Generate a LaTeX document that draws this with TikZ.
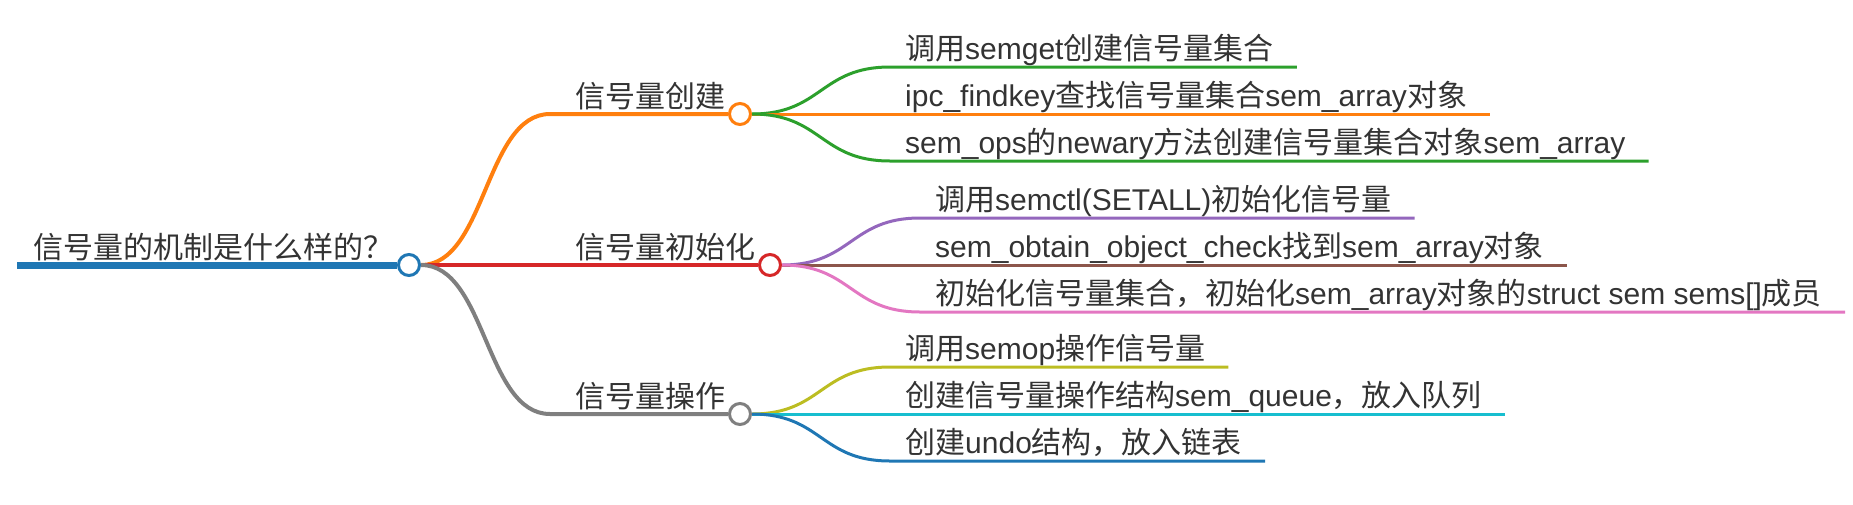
\documentclass[tikz,border=0pt]{standalone}
\usepackage{fontspec}
\setmainfont{Liberation Sans}
\newfontfamily\cjk{Noto Sans CJK SC}
\usetikzlibrary{calc}
\pgfdeclarelayer{bg}
\pgfsetlayers{bg,main}
\definecolor{cBlue}{HTML}{1F77B4}
\definecolor{cOrange}{HTML}{FF7F0E}
\definecolor{cGreen}{HTML}{2CA02C}
\definecolor{cRed}{HTML}{D62728}
\definecolor{cPurple}{HTML}{9467BD}
\definecolor{cBrown}{HTML}{8C564B}
\definecolor{cPink}{HTML}{E377C2}
\definecolor{cGrey}{HTML}{7F7F7F}
\definecolor{cOlive}{HTML}{BCBD22}
\definecolor{cCyan}{HTML}{17BECF}
\definecolor{textc}{HTML}{333333}
\newcommand\C[1]{{\cjk #1}}
\tikzset{
  txt/.style={anchor=base west, inner sep=0pt, text=textc, font=\fontsize{30}{32}\selectfont},
  rootline/.style={line width=7pt},
  brline/.style={line width=4pt},
  lfline/.style={line width=3pt},
  dot/.style={circle, draw, line width=3pt, fill=white, minimum size=21pt, inner sep=0pt},
}
\begin{document}
\begin{tikzpicture}[x=1pt,y=-1pt]
\useasboundingbox (0,0) rectangle (1853,504);
% circles
\node[dot, draw=cBlue] (rc) at (409,265) {};
\node[dot, draw=cOrange] (c1) at (740,114) {};
\node[dot, draw=cRed] (c2) at (770,265) {};
\node[dot, draw=cGrey] (c3) at (740,414) {};
% connector ends
\coordinate (r0) at (17,265);
\coordinate (b1) at (550,114);
\coordinate (b3) at (550,414);
\coordinate (s11) at (890,67);
\coordinate (s13) at (890,161);
\coordinate (s21) at (920,218);
\coordinate (s23) at (920,312);
\coordinate (s31) at (890,367);
\coordinate (s33) at (890,461);
% texts
\node[txt] (t0) at (33,258) {\C{信号量的机制是什么样的？}};
\node[txt] (t1) at (575,107) {\C{信号量创建}};
\node[txt] (t2) at (575,258) {\C{信号量初始化}};
\node[txt] (t3) at (575,407) {\C{信号量操作}};
\node[txt] (t11) at (905,59) {\C{调用}semget\C{创建信号量集合}};
\node[txt] (t12) at (905,106) {ipc\_findkey\C{查找信号量集合}sem\_array\C{对象}};
\node[txt] (t13) at (905,153) {sem\_ops\C{的}newary\C{方法创建信号量集合对象}sem\_array};
\node[txt] (t21) at (935,210) {\C{调用}semctl(SETALL)\C{初始化信号量}};
\node[txt] (t22) at (935,257) {sem\_obtain\_object\_check\C{找到}sem\_array\C{对象}};
\node[txt] (t23) at (935,304) {\C{初始化信号量集合，初始化}sem\_array\C{对象的}struct sem sems[]\C{成员}};
\node[txt] (t31) at (905,359) {\C{调用}semop\C{操作信号量}};
\node[txt] (t32) at (905,406) {\C{创建信号量操作结构}sem\_queue\C{，放入队列}};
\node[txt] (t33) at (905,453) {\C{创建}undo\C{结构，放入链表}};
\begin{pgfonlayer}{bg}
% root
\draw[rootline, cBlue] (r0) -- (rc.west);
% branches
\draw[brline, cOrange] (rc.east) .. controls ($(rc.east)+(65,0)$) and ($(b1)+(-65,0)$) .. (b1) -- (c1.west);
\draw[brline, cRed] (rc.east) -- (c2.west);
\draw[brline, cGrey] (rc.east) .. controls ($(rc.east)+(65,0)$) and ($(b3)+(-65,0)$) .. (b3) -- (c3.west);
% leaves of branch 1
\draw[lfline, cGreen] (c1.east) .. controls ($(c1.east)+(70,0)$) and ($(s11)+(-70,0)$) .. (s11) -- ($(s11 -| t11.east)+(23,0)$);
\draw[lfline, cOrange] (c1.east) -- ($(c1.east -| t12.east)+(23,0)$);
\draw[lfline, cGreen] (c1.east) .. controls ($(c1.east)+(70,0)$) and ($(s13)+(-70,0)$) .. (s13) -- ($(s13 -| t13.east)+(23,0)$);
% leaves of branch 2
\draw[lfline, cPurple] (c2.east) .. controls ($(c2.east)+(70,0)$) and ($(s21)+(-70,0)$) .. (s21) -- ($(s21 -| t21.east)+(23,0)$);
\draw[lfline, cBrown] (c2.east) -- ($(c2.east -| t22.east)+(23,0)$);
\draw[lfline, cPink] (c2.east) .. controls ($(c2.east)+(70,0)$) and ($(s23)+(-70,0)$) .. (s23) -- ($(s23 -| t23.east)+(23,0)$);
% leaves of branch 3
\draw[lfline, cOlive] (c3.east) .. controls ($(c3.east)+(70,0)$) and ($(s31)+(-70,0)$) .. (s31) -- ($(s31 -| t31.east)+(23,0)$);
\draw[lfline, cCyan] (c3.east) -- ($(c3.east -| t32.east)+(23,0)$);
\draw[lfline, cBlue] (c3.east) .. controls ($(c3.east)+(70,0)$) and ($(s33)+(-70,0)$) .. (s33) -- ($(s33 -| t33.east)+(23,0)$);
\end{pgfonlayer}
\end{tikzpicture}
\end{document}
